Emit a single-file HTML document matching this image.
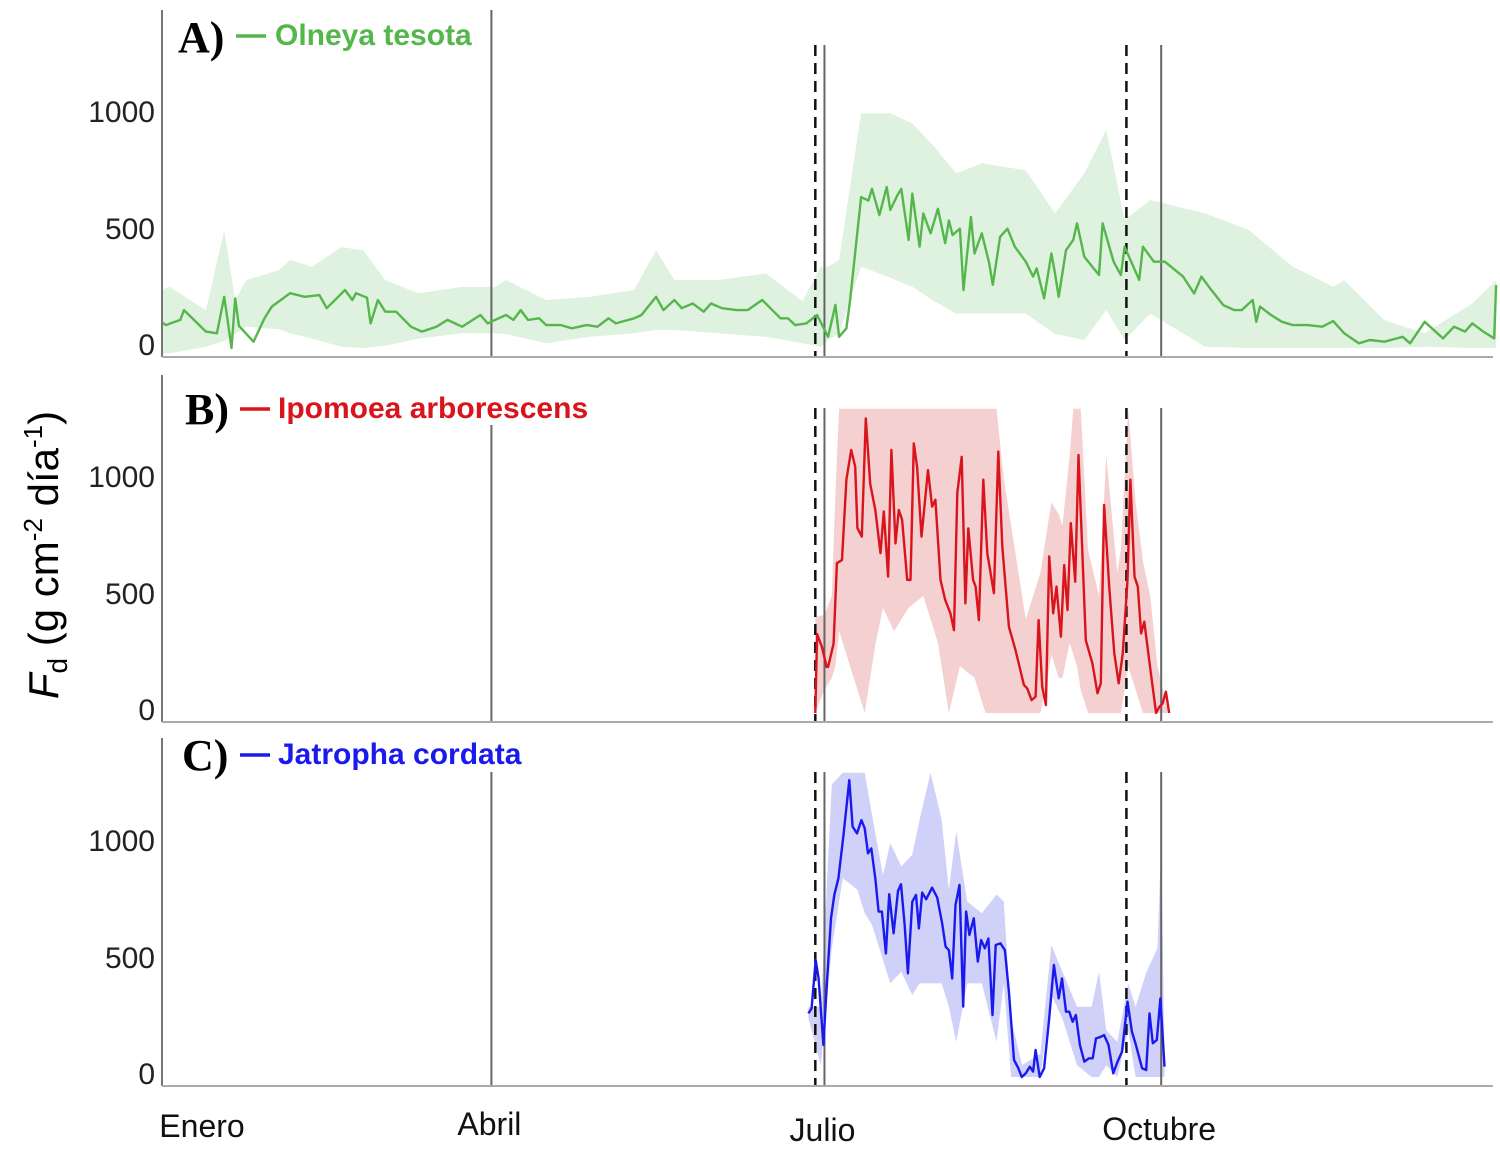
<!DOCTYPE html>
<html><head><meta charset="utf-8"><style>
html,body{margin:0;padding:0;background:#fff;}
svg{display:block;}
</style></head><body>
<svg id="chart" width="1500" height="1170" viewBox="0 0 1500 1170" xmlns="http://www.w3.org/2000/svg">
<text transform="translate(58,555) rotate(-90)" text-anchor="middle" font-family="Liberation Sans, sans-serif" font-size="42" fill="#000"><tspan font-style="italic">F</tspan><tspan font-size="28" dy="9">d</tspan><tspan dy="-9"> (g cm</tspan><tspan font-size="26" dy="-16">-2</tspan><tspan dy="16"> día</tspan><tspan font-size="26" dy="-16">-1</tspan><tspan dy="16">)</tspan></text>
<g id="months" font-family="Liberation Sans, sans-serif" font-size="32" fill="#111" text-anchor="middle"></g>
</svg>
<script>
// ---------- Data ----------
const monthLabels = ["Enero","Abril","Julio","Octubre"];
const monthDays = [0, 90, 181, 273];
const dashedDays = [178.5, 263.5];
const tickValues = [0, 500, 1000];

const olneyaDays = [0,1,5,6,12,15,17,18,19,20,21,25,28,30,35,39,43,45,50,52,53,56,57,59,61,64,68,71,75,78,82,87,89,91,94,96,98,100,103,105,109,112,116,119,122,124,129,131,135,137,140,142,145,148,150,153,157,160,164,169,171,173,176,179,182,184,185,187,188,191,193,194,196,198,199,201,202,204,205,207,208,210,212,214,215,216,218,219,221,222,224,226,227,229,231,233,236,238,239,241,243,244,245,247,249,250,252,256,257,260,262,263,267,268,271,274,279,282,284,286,290,293,295,298,299,300,303,306,309,313,317,320,323,327,330,334,339,341,345,350,353,356,358,361,364,364.5];
const olneyaMean = [110,98,120,162,70,63,219,110,0,212,95,27,127,177,234,219,226,170,248,205,234,215,105,205,155,155,91,70,91,120,91,141,105,120,141,120,162,120,127,98,98,84,98,91,127,105,127,141,219,162,205,170,190,155,190,170,162,162,205,127,127,98,105,141,48,184,48,84,205,645,630,680,568,688,590,655,680,462,660,433,575,490,595,448,545,483,510,248,560,404,490,362,270,475,510,433,369,305,340,212,404,319,219,418,462,533,390,312,533,369,312,433,291,433,369,369,305,233,305,262,183,162,162,205,112,177,141,112,98,98,91,115,63,20,34,27,48,20,112,41,91,70,105,70,41,269];
const olneyaBandDays = [0,2,12,17,20,23,32,35,41,49,55,61,70,82,91,94,105,117,129,135,140,152,165,175,180,182,185,191,199,205,211,217,224,236,244,252,258,263,270,285,297,309,320,323,334,345,358,364.5];
const olneyaUpper = [250,261,162,503,205,290,333,376,347,431,417,290,234,261,261,290,205,219,248,417,290,290,319,200,347,347,376,1003,1003,960,860,746,789,760,575,746,932,547,632,575,504,347,262,290,119,63,190,290];
const olneyaLower = [-23,-23,5,30,60,91,80,63,40,5,0,10,40,63,63,60,20,48,63,77,77,63,48,20,5,34,63,347,300,262,200,147,147,147,60,34,162,34,147,5,0,0,0,0,0,5,0,0];

const ipomoeaDays = [178.5,179,180.3,181.6,182,183.5,184.4,185.8,187,188.3,189.4,190,191.2,192.3,193.5,194.9,196.3,197.2,198.4,199.3,200.4,201.3,202.2,203.6,204.5,205.4,206.3,207.5,209.3,210.4,211.3,212.7,214,215.4,216.4,217.3,218.5,219.5,220.3,221.6,222.3,223.2,224.4,225.5,227.3,228.5,229.6,231.4,233.2,235.5,236.4,237.6,238.7,239.5,240.5,241.5,242.4,243.5,244.4,245.6,246.5,247.4,248.3,249.5,250.4,252.4,254.2,255.6,256.5,257.4,258.8,260.2,261.4,262.5,263.8,264.6,265.7,266.6,267.5,268.4,270.2,271.6,272.5,273.4,274.3,275.2];
const ipomoeaMean = [0,337,283,197,197,297,640,654,997,1124,1052,790,754,1259,980,868,683,861,583,1124,725,868,826,569,569,1152,1052,754,1038,882,911,569,483,426,354,940,1095,469,789,569,540,397,997,683,512,1117,712,369,269,120,105,55,70,397,113,34,669,426,540,326,632,440,811,561,1102,311,212,84,127,889,540,255,127,255,569,997,583,540,340,390,169,0,26,41,91,0];
const ipomoeaBandDays = [178.5,181,183,184,185,190,192,195,197,200,204,208,212,215,218,222,225,228,230,233,236,240,242,243,245,246,248,249,250,251,253,256,258,261,262,264,266,268,270,272,275];
const ipomoeaUpper = [410,420,500,940,1300,1300,1300,1300,1300,1300,1300,1300,1300,1300,1300,1300,1300,1300,1000,700,400,600,800,900,850,800,1100,1300,1300,1300,700,500,1100,600,700,1300,900,650,500,200,0];
const ipomoeaLower = [0,100,150,200,350,100,0,300,450,350,450,500,300,0,200,150,0,0,0,0,0,0,150,250,150,150,300,250,200,100,0,0,0,0,0,200,100,0,0,0,0];

const jatrophaDays = [176.6,177.5,178.6,179.4,180.7,181.7,182.8,183.7,184.8,186.2,187.8,188.7,189.9,191.1,192,192.9,193.8,194.9,195.8,196.7,197.8,198.7,199.9,201.1,201.9,202.9,203.8,205,206,206.8,207.7,208.8,210.4,211.8,213.2,214.1,215,215.9,216.8,217.9,218.9,219.7,220.6,221.8,222.9,223.8,224.8,225.8,226.9,227.8,229.1,230.3,231.4,232.8,234,234.9,236,237.1,238,238.7,239.8,241,242.4,243.7,245,245.9,247,247.9,248.8,249.7,250.8,252,253.3,254.3,255.2,256.5,257.4,258.6,259.9,261.1,262.3,263.8,265,266.1,267.8,268.9,269.8,270.7,271.8,272.8,273.9];
const jatrophaMean = [272,293,500,421,137,408,678,778,849,1034,1269,1070,1041,1098,1063,956,977,849,707,707,528,781,614,795,824,653,443,749,778,635,788,760,809,767,653,557,542,421,735,821,301,707,607,678,493,585,550,592,265,564,571,542,365,73,37,0,16,44,23,116,0,37,251,479,336,421,279,279,236,265,137,66,80,80,165,172,179,137,16,66,108,322,194,137,37,30,272,144,158,336,44];
const jatrophaBandDays = [176.6,180,183,186,190,192,194,197,199,202,205,207,210,213,215,217,220,224,228,230,232,235,240,243,246,250,254,256,258,261,264,266,269,272,273,273.9];
const jatrophaUpper = [300,300,1250,1300,1300,1300,1120,863,1000,900,950,1100,1300,1100,800,1050,750,700,780,750,250,50,100,564,450,300,300,450,200,150,400,300,450,550,1000,100];
const jatrophaLower = [250,50,550,850,800,700,650,500,400,450,350,400,400,400,300,150,400,400,150,400,0,0,0,350,250,50,0,0,50,0,200,0,0,0,0,0];

// ---------- Layout ----------
const NS = "http://www.w3.org/2000/svg";
const svg = document.getElementById("chart");
const X0 = 162, PXD = 3.66;
function xScale(d){ return X0 + d * PXD; }
function mk(tag, attrs, parent){
  const e = document.createElementNS(NS, tag);
  for (const k in attrs) e.setAttribute(k, attrs[k]);
  (parent || svg).appendChild(e);
  return e;
}

const panels = [
  {id:"a", bottom:357, axisTop:10, lineTop:45, abrilTop:10, letter:"A)", name:"Olneya tesota", color:"#55b64b", band:"#dff2df",
   days:olneyaDays, mean:olneyaMean, bDays:olneyaBandDays, up:olneyaUpper, lo:olneyaLower, lx:178, ly:52, nx:275, ny:45, lineX:236},
  {id:"b", bottom:722, axisTop:375, lineTop:408, abrilTop:425, letter:"B)", name:"Ipomoea arborescens", color:"#d9141c", band:"#f4d0d0",
   days:ipomoeaDays, mean:ipomoeaMean, bDays:ipomoeaBandDays, up:ipomoeaUpper, lo:ipomoeaLower, lx:185, ly:424, nx:278, ny:418, lineX:240},
  {id:"c", bottom:1086, axisTop:738, lineTop:772, abrilTop:772, letter:"C)", name:"Jatropha cordata", color:"#1a1aee", band:"#d0d1f8",
   days:jatrophaDays, mean:jatrophaMean, bDays:jatrophaBandDays, up:jatrophaUpper, lo:jatrophaLower, lx:182, ly:770, nx:278, ny:764, lineX:240}
];

panels.forEach(p => {
  const y0 = p.bottom - 9, k = 0.234;
  const yScale = v => y0 - v * k;
  const clipTop = p.id === "a" ? p.axisTop : p.lineTop;
  const clampY = v => Math.max(clipTop, Math.min(p.bottom, yScale(v)));
  const g = mk("g", {});
  
  

  let dStr = "";
  p.bDays.forEach((d,i)=>{ dStr += (i?"L":"M") + xScale(d).toFixed(1) + "," + clampY(p.up[i]).toFixed(1); });
  for (let i = p.bDays.length-1; i>=0; i--) dStr += "L" + xScale(p.bDays[i]).toFixed(1) + "," + clampY(p.lo[i]).toFixed(1);
  const band = mk("path", {d:dStr+"Z", fill:p.band, stroke:"none"}, g);
  
  

  monthDays.forEach((d,i)=>{
    if (i === 0) return;
    const top = i === 1 ? p.abrilTop : p.lineTop;
    const l = mk("line", {x1:xScale(d), x2:xScale(d), y1:top, y2:p.bottom, stroke:"#666", "stroke-width":2}, g);
    
    
  });
  dashedDays.forEach((d,i)=>{
    const l = mk("line", {x1:xScale(d), x2:xScale(d), y1:p.lineTop, y2:p.bottom, stroke:"#111", "stroke-width":2.5, "stroke-dasharray":"11,7"}, g);
    
    
  });

  let pts = p.days.map((d,i)=> xScale(d).toFixed(1)+","+Math.min(p.bottom, yScale(p.mean[i])).toFixed(1)).join(" ");
  const ml = mk("polyline", {points:pts, fill:"none", stroke:p.color, "stroke-width":2.4, "stroke-linejoin":"round"}, g);
  
  

  const ax = mk("line", {x1:X0, x2:X0, y1:p.axisTop, y2:p.bottom, stroke:"#777", "stroke-width":2}, g);
  
  
  const bx = mk("line", {x1:X0, x2:1493, y1:p.bottom, y2:p.bottom, stroke:"#aaa", "stroke-width":2}, g);
  
  

  tickValues.forEach(v=>{
    const t = mk("text", {x:155, y:yScale(v)+ (v===0?7:8), "text-anchor":"end", "font-family":"Liberation Sans, sans-serif", "font-size":30, fill:"#222"}, g);
    t.textContent = String(v);
    
    
  });

  const lt = mk("text", {x:p.lx, y:p.ly, "font-family":"Liberation Serif, serif", "font-weight":"bold", "font-size":44, fill:"#000"}, g);
  lt.textContent = p.letter;
  
  
  const lg = mk("line", {x1:p.lineX, x2:p.lineX+30, y1:p.ny-9, y2:p.ny-9, stroke:p.color, "stroke-width":3.5}, g);
  
  
  const nt = mk("text", {x:p.nx, y:p.ny, "font-family":"Liberation Sans, sans-serif", "font-weight":"bold", "font-size":30, fill:p.color}, g);
  nt.textContent = p.name;
  
  
});

const mg = document.getElementById("months");
const monthY = [1137, 1135, 1141, 1140];
monthLabels.forEach((m,i)=>{
  const t = mk("text", {x: i===0 ? 202 : xScale(monthDays[i]) - 2, y: monthY[i]}, mg);
  t.textContent = m;
  
  
});
</script>
</body></html>
